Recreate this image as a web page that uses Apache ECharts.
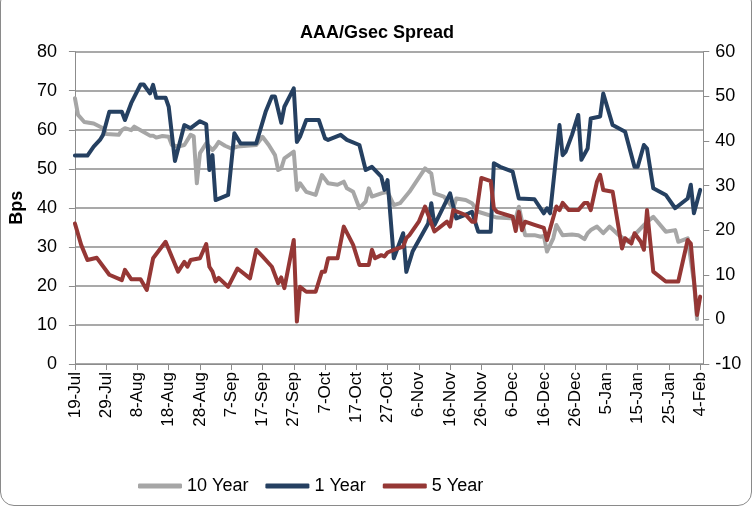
<!DOCTYPE html>
<html>
<head>
<meta charset="utf-8">
<script src="https://cdn.jsdelivr.net/npm/echarts@6/dist/echarts.min.js"></script>
<style>
  html, body { margin: 0; padding: 0; background: #fff; overflow: hidden; }
  #frame { position: absolute; left: 0; top: -12px; width: 750px; height: 516px; border: 1px solid #8a8a8a; border-radius: 14px; }
  #chart { position: absolute; left: 0; top: 0; width: 754px; height: 507px; }
</style>
</head>
<body>
<div id="frame"></div>
<div id="chart"></div>
<script>
// x values are days counted from 19-Jul
const tickLabels = ['19-Jul', '29-Jul', '8-Aug', '18-Aug', '28-Aug', '7-Sep', '17-Sep', '27-Sep', '7-Oct', '17-Oct',
    '27-Oct', '6-Nov', '16-Nov', '26-Nov', '6-Dec', '16-Dec', '26-Dec', '5-Jan', '15-Jan', '25-Jan', '4-Feb']

// 10 Year (left axis)
const tenDays = [0, 1, 3, 6, 9, 10, 14, 15, 16, 18, 19, 21, 24, 25, 26, 28, 30, 31, 33, 35, 37, 38, 39, 40, 42, 44, 45, 46, 48, 50,
    52, 58, 60, 62, 64, 65, 66, 67, 70, 71, 72, 74, 77, 79, 81, 84, 86, 87, 89, 91, 93, 94, 95, 98, 100, 102, 104, 107, 112, 114,
    115, 118, 121, 122, 125, 127, 129, 135, 141, 142, 144, 147, 149, 150, 151, 153, 154, 156, 159, 161, 163, 164, 165, 167, 169, 171, 174, 177, 180, 183,
    185, 189, 192, 193, 196, 198, 199]
const tenYear = [68.1, 63.8, 62, 61.6, 60.4, 58.9, 58.7, 59.9, 60.4, 59.9, 60.8, 59.9, 58.5, 58.5, 58, 58.4, 58.2, 56.1, 55.7, 56.1,
    58.7, 58.3, 46.3, 54, 56.5, 54.8, 55.7, 56.9, 55.9, 55.2, 55.7, 56.1, 58.2, 56.1, 53.5, 49.7, 50.1, 52.7, 54.4, 44.6,
    46.3, 44.1, 43.3, 48.4, 46.3, 45.9, 46.7, 45, 44.1, 39.9, 41.6, 45, 42.9, 43.7, 44.1, 40.7, 41.2, 44.1, 50.1, 48.8,
    43.7, 42.9, 39.9, 42.4, 42, 41.2, 39, 37.5, 37.3, 40.3, 33, 33, 32.6, 32.8, 28.8, 32.2, 35.6, 33, 33.2, 33,
    32, 33.5, 34.3, 35.2, 33.5, 35.2, 33, 31.3, 33.9, 36.4, 37.7, 33.9, 34.3, 31.3, 32.2, 21.1, 11.5]

// 1 Year (left axis)
const oneDays = [0, 4, 6, 8, 9, 11, 15, 16, 18, 21, 22, 24, 25, 26, 29, 30, 32, 35, 37, 40, 42, 43, 44, 45, 49, 51, 53, 58, 61, 63,
    64, 66, 67, 70, 71, 72, 74, 78, 80, 81, 85, 87, 91, 93, 95, 98, 99, 100, 102, 105, 106, 108, 113, 114, 115, 120, 122, 126, 127, 129,
    133, 134, 136, 140, 142, 147, 150, 151, 152, 155, 156, 157, 159, 161, 162, 164, 165, 168, 169, 172, 176, 179, 180, 182, 183, 185, 189, 192, 196, 197,
    198, 200]
const oneYear = [53.4, 53.4, 55.7, 57.4, 58.7, 64.6, 64.6, 62.5, 66.8, 71.6, 71.6, 69.3, 71.5, 68.2, 68.2, 65.9, 52, 61.2, 60.4, 62.2,
    61.4, 49.7, 53.5, 42, 43.3, 59.1, 56.5, 56.5, 64.6, 68.5, 68.5, 61.8, 65.9, 70.6, 56.9, 58.2, 62.5, 62.5, 57.8, 57.4,
    58.7, 57.4, 56.1, 49.7, 50.5, 48, 44.6, 47.1, 27.1, 33.5, 23.6, 28.8, 36, 41.2, 35.6, 43.7, 37.3, 38.6, 39, 33.9,
    33.9, 51.4, 50.5, 49.3, 42.4, 42.2, 38.6, 39.9, 38.6, 61.2, 53.5, 54.4, 58.7, 63.8, 52.3, 55.2, 62.9, 63.4, 69.3, 61.2,
    59.5, 50.5, 50.5, 56.1, 55.2, 45, 43.3, 39.9, 42.4, 45.9, 38.6, 44.6]

// 5 Year (right axis)
const fiveDays = [0, 2, 4, 7, 11, 15, 16, 18, 21, 23, 25, 29, 33, 35, 36, 37, 40, 42, 43, 44, 45, 46, 49, 52, 56, 58, 60, 63, 65, 66,
    67, 70, 71, 72, 74, 77, 79, 80, 81, 84, 86, 89, 91, 94, 95, 96, 98, 99, 100, 102, 105, 106, 107, 110, 112, 115, 119, 120, 121, 125,
    127, 128, 130, 133, 134, 135, 140, 141, 142, 143, 144, 147, 150, 151, 154, 155, 156, 158, 161, 163, 164, 165, 167, 168, 169, 172, 175, 176, 178, 179,
    181, 182, 183, 185, 189, 193, 196, 197, 199, 200]
const fiveYear = [21.5, 16.7, 13.3, 13.8, 10, 8.8, 11.1, 9, 9, 6.6, 13.7, 17.4, 10.7, 12.9, 11.8, 13.3, 13.7, 16.9, 11.8, 10.7,
    8.5, 9.3, 7.3, 11.4, 9.2, 15.6, 14.1, 11.8, 8.1, 9.4, 7, 17.8, -0.5, 7.3, 6.2, 6.2, 10.7, 10.7, 13.7, 13.7,
    20.8, 16.7, 12.2, 12.2, 15.6, 13.7, 14.4, 14.1, 15, 15.6, 16.3, 18.2, 18.9, 21.9, 25.3, 19.7, 21.9, 20.8, 24.5, 23.4,
    21.9, 21.9, 31.7, 31, 24.9, 24.1, 23, 19.8, 24.1, 20, 21.9, 21.2, 20.5, 17.8, 25.3, 24.5, 26.1, 24.5, 24.5, 26.1,
    26.1, 24.5, 30.9, 32.4, 29, 28.6, 15.9, 18.2, 17, 19.3, 17.4, 15.6, 24.5, 10.7, 8.5, 8.5, 17.8, 17, 1, 5.1]

const font = "'Liberation Sans', Arial, sans-serif"
const gridColor = '#8c8c8c'

const pairs = (days, vals) => days.map((d, i) => [d, vals[i]])

const makeLine = (name, days, vals, color, axisIdx) => ({
    name: name,
    type: 'line',
    yAxisIndex: axisIdx,
    data: pairs(days, vals),
    symbol: 'none',
    lineStyle: { width: 4, color: color, cap: 'round', join: 'round' },
    itemStyle: { color: color },
})

const myChart = echarts.init(document.querySelector('#chart'))
const option = {
    animation: false,
    title: {
        text: 'AAA/Gsec Spread',
        left: 'center',
        top: 19,
        textStyle: { fontFamily: font, fontSize: 18, fontWeight: 'bold', color: '#000' },
    },
    grid: { left: 68.7, right: 50.7, top: 51.7, bottom: 143 },
    legend: {
        bottom: 7,
        left: 133,
        itemWidth: 44,
        itemHeight: 5,
        itemGap: 17,
        icon: 'roundRect',
        textStyle: { fontFamily: font, fontSize: 18, color: '#000' },
        data: ['10 Year', '1 Year', '5 Year'],
    },
    xAxis: {
        type: 'value',
        min: 0,
        max: 201,
        interval: 10,
        axisLine: { onZero: false, lineStyle: { color: gridColor } },
        axisTick: { show: true, length: 6, lineStyle: { color: gridColor } },
        splitLine: { show: false },
        axisLabel: {
            rotate: 90,
            margin: 8,
            fontFamily: font,
            fontSize: 17,
            color: '#000',
            showMaxLabel: false,
            formatter: v => (v % 10 === 0 ? tickLabels[v / 10] || '' : ''),
        },
    },
    yAxis: [
        {
            type: 'value',
            min: 0,
            max: 80,
            interval: 10,
            name: 'Bps',
            nameLocation: 'middle',
            nameGap: 47,
            nameTextStyle: { fontFamily: font, fontSize: 18, fontWeight: 'bold', color: '#000' },
            axisLine: { show: true, lineStyle: { color: gridColor } },
            axisTick: { show: true, length: 6, lineStyle: { color: gridColor } },
            splitLine: { lineStyle: { color: gridColor, width: 1.5 } },
            axisLabel: { margin: 18, fontFamily: font, fontSize: 18, color: '#000' },
        },
        {
            type: 'value',
            min: -10,
            max: 60,
            interval: 10,
            position: 'right',
            axisLine: { show: true, lineStyle: { color: gridColor } },
            axisTick: { show: true, length: 6, lineStyle: { color: gridColor } },
            splitLine: { show: false },
            axisLabel: { margin: 12, fontFamily: font, fontSize: 18, color: '#000' },
        },
    ],
    series: [
        makeLine('10 Year', tenDays, tenYear, '#a6a6a6', 0),
        makeLine('1 Year', oneDays, oneYear, '#254061', 0),
        makeLine('5 Year', fiveDays, fiveYear, '#953735', 1),
    ],
}
myChart.setOption(option)
</script>
</body>
</html>
